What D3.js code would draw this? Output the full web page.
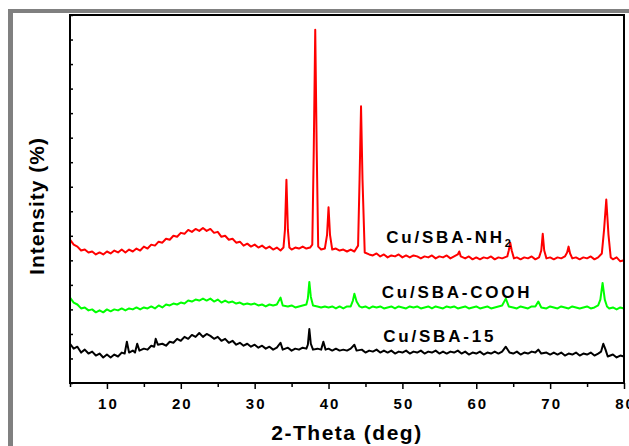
<!DOCTYPE html>
<html>
<head>
<meta charset="utf-8">
<script src="https://cdn.jsdelivr.net/npm/d3@7"></script>
<style>
  body { margin: 0; background: #fff; }
  svg { display: block; }
</style>
</head>
<body>
<svg id="chart" width="629" height="446"></svg>
<script>
// sample names, colours and where the name sits (2-theta, intensity)
const sampleNames = ["Cu/SBA-NH", "Cu/SBA-COOH", "Cu/SBA-15"];
const nameSubs = ["2", "", ""];
const lineColors = ["#ff0000", "#00ff00", "#000000"];
const labelX = [47.8, 47.2, 47.4];
const labelY = [142.7, 86.6, 41.8];

const xTickValues = [10, 20, 30, 40, 50, 60, 70, 80];

// XRD patterns, [2-theta, intensity (a.u.)]
const cuSbaNh2 = [
  [5,146],[5.5,141],[6,139],[6.5,135],[7,136],[7.5,133],[8,134],[8.5,131],[9,133],[9.5,131],
  [10,134],[10.5,132],[11,135],[11.5,133],[12,136],[12.5,133],[13,136],[13.5,134],[14,137],[14.5,135],
  [15,139],[15.5,137],[16,141],[16.5,140],[17,144],[17.5,143],[18,147],[18.5,146],[19,150],[19.5,149],
  [20,153],[20.5,152],[21,156],[21.5,154],[22,157],[22.5,155],[23,158],[23.5,155],[24,157],[24.5,153],
  [25,154],[25.5,149],[26,150],[26.5,146],[27,147],[27.5,143],[28,144],[28.5,140],[29,142],[29.5,139],
  [30,141],[30.5,138],[31,140],[31.5,137],[32,139],[32.5,136],[33,138],[33.5,135],[33.9,138],[34.1,156],
  [34.3,207],[34.5,156],[34.7,138],[35,136],[35.5,138],[36,137],[36.5,139],[37,137],[37.5,138],[37.8,141],
  [38,237],[38.2,360],[38.4,237],[38.6,139],[39,136],[39.5,137],[39.8,151],[40,179],[40.2,151],[40.5,136],
  [41,137],[41.5,135],[42,136],[42.5,134],[43,136],[43.5,134],[44,140],[44.2,207],[44.4,282],[44.6,207],
  [44.9,133],[45.5,131],[46,130],[46.5,132],[47,129],[47.5,131],[48,128],[48.5,130],[49,129],[49.5,131],
  [50,128],[50.5,130],[51,128],[51.5,130],[52,129],[52.5,127],[53,129],[53.5,128],[54,130],[54.5,127],
  [55,129],[55.5,128],[56,130],[56.5,127],[57,129],[57.5,131],[57.7,134],[57.9,129],[58.5,127],[59,129],
  [59.5,126],[60,128],[60.5,126],[61,128],[61.5,127],[62,129],[62.5,126],[63,128],[63.5,127],[64.2,129],
  [64.4,135],[64.6,143],[64.8,135],[65.1,127],[65.5,128],[66,126],[66.5,128],[67,127],[67.5,129],[68,126],
  [68.5,128],[68.8,135],[69,152],[69.2,135],[69.5,127],[70,128],[70.5,126],[71,128],[71.5,127],[72,129],
  [72.3,133],[72.5,139],[72.7,132],[73,127],[73.5,128],[74,126],[74.5,128],[75,127],[75.5,129],[76,126],
  [76.5,128],[77,132],[77.3,156],[77.6,187],[77.9,151],[78.2,128],[78.5,126],[79,128],[79.5,124],[80,125]
];

const cuSbaCooh = [
  [5,87],[5.5,82],[6,80],[6.5,76],[7,77],[7.5,74],[8,75],[8.5,72],[9,74],[9.5,72],
  [10,75],[10.5,73],[11,75],[11.5,74],[12,76],[12.5,74],[13,76],[13.5,75],[14,77],[14.5,75],
  [15,77],[15.5,76],[16,78],[16.5,76],[17,79],[17.5,77],[18,80],[18.5,79],[19,81],[19.5,80],
  [20,82],[20.5,81],[21,84],[21.5,83],[22,85],[22.5,84],[23,86],[23.5,84],[24,86],[24.5,83],
  [25,85],[25.5,82],[26,84],[26.5,82],[27,83],[27.5,81],[28,82],[28.5,80],[29,81],[29.5,80],
  [30,81],[30.5,79],[31,80],[31.5,78],[32,80],[32.5,79],[33,80],[33.5,87],[33.8,79],[34.5,78],
  [35,79],[35.5,77],[36,78],[36.5,79],[37,80],[37.2,86],[37.4,103],[37.6,88],[37.9,79],[38.5,78],
  [39,77],[39.5,78],[40,77],[40.5,78],[41,76],[41.5,78],[42,76],[42.5,78],[43,78],[43.3,84],
  [43.5,91],[43.8,83],[44.2,78],[44.5,77],[45,78],[45.5,76],[46,78],[46.5,77],[47,78],[47.5,76],
  [48,77],[48.5,78],[49,76],[49.5,78],[50,77],[50.5,76],[51,78],[51.5,77],[52,78],[52.5,76],
  [53,77],[53.5,78],[54,76],[54.5,78],[55,77],[55.5,76],[56,78],[56.5,77],[57,78],[57.5,76],
  [58,77],[58.5,78],[59,76],[59.5,77],[60,78],[60.5,76],[61,77],[61.5,78],[62,76],[62.5,77],
  [63,78],[63.5,79],[64,86],[64.4,78],[65,77],[65.5,76],[66,78],[66.5,77],[67,76],[67.5,78],
  [68,78],[68.4,83],[68.8,77],[69.5,76],[70,78],[70.5,77],[71,76],[71.5,78],[72,77],[72.5,76],
  [73,78],[73.5,77],[74,76],[74.5,77],[75,78],[75.5,76],[76,77],[76.5,79],[76.8,85],[77.1,102],
  [77.4,85],[77.7,78],[78,76],[78.5,77],[79,75],[79.5,77],[80,76]
];

const cuSba15 = [
  [5,40],[5.5,35],[6,37],[6.5,31],[7,34],[7.5,30],[8,32],[8.5,28],[9,30],[9.5,26],
  [10,29],[10.5,26],[11,29],[11.5,27],[12,31],[12.4,30],[12.7,42],[13,31],[13.5,33],[13.8,31],
  [14.1,40],[14.4,33],[15,35],[15.5,34],[16,38],[16.4,37],[16.6,45],[16.9,39],[17.5,40],[18,38],
  [18.5,42],[19,41],[19.5,45],[20,43],[20.5,47],[21,45],[21.5,49],[22,47],[22.5,51],[23,47],
  [23.5,50],[24,48],[24.5,45],[25,47],[25.5,43],[26,45],[26.5,41],[27,43],[27.5,39],[28,41],
  [28.5,38],[29,40],[29.5,37],[30,39],[30.5,36],[31,38],[31.5,35],[32,37],[32.5,34],[33,36],
  [33.5,41],[33.8,34],[34.5,36],[35,33],[35.5,35],[36,34],[36.5,36],[37,35],[37.2,39],[37.4,55],
  [37.6,40],[37.9,34],[38.5,35],[39,34],[39.3,42],[39.6,34],[40,35],[40.5,33],[41,35],[41.5,33],
  [42,34],[42.5,33],[43,35],[43.5,39],[43.8,33],[44.5,34],[45,31],[45.5,33],[46,32],[46.5,34],
  [47,31],[47.5,33],[48,31],[48.5,33],[49,30],[49.5,32],[50,31],[50.5,33],[51,30],[51.5,32],
  [52,31],[52.5,33],[53,30],[53.5,32],[54,31],[54.5,33],[55,30],[55.5,32],[56,30],[56.5,32],
  [57,31],[57.5,33],[58,30],[58.5,32],[59,29],[59.5,31],[60,30],[60.5,32],[61,29],[61.5,31],
  [62,30],[62.5,32],[63,30],[63.5,32],[64,37],[64.5,31],[65,30],[65.5,32],[66,29],[66.5,31],
  [67,30],[67.5,32],[68,31],[68.4,34],[68.8,30],[69.5,31],[70,29],[70.5,31],[71,29],[71.5,31],
  [72,28],[72.5,30],[73,29],[73.5,31],[74,28],[74.5,30],[75,29],[75.5,31],[76,28],[76.5,30],
  [76.9,32],[77.2,40],[77.5,34],[77.8,27],[78.5,29],[79,26],[79.5,28],[80,27]
];

const patterns = [cuSbaNh2, cuSbaCooh, cuSba15];

const svg = d3.select("#chart");

// grey page border, left and top
svg.append("rect").attr("x", 8).attr("y", 9).attr("width", 621).attr("height", 4).attr("fill", "#808080");
svg.append("rect").attr("x", 8).attr("y", 9).attr("width", 5).attr("height", 437).attr("fill", "#808080");

const plotL = 70, plotR = 624, plotT = 15, plotB = 383;

const x = d3.scaleLinear().domain([5, 80]).range([plotL, plotR]);
const y = d3.scaleLinear().domain([0, 375]).range([plotB, plotT]);

const line = d3.line()
  .x(d => x(d[0]))
  .y(d => y(d[1]));

svg.selectAll("path.pattern")
  .data(patterns)
  .enter()
  .append("path")
    .attr("class", "pattern")
    .attr("d", line)
    .attr("fill", "none")
    .attr("stroke", (d, i) => lineColors[i])
    .attr("stroke-width", 2)
    .attr("stroke-linejoin", "round");

// x axis, major ticks labelled, minor ticks between
const xAxis = svg.append("g").attr("transform", "translate(0," + plotB + ")");
xAxis.call(d3.axisBottom(x).tickValues(xTickValues).tickSize(6).tickPadding(9));
xAxis.append("g").call(d3.axisBottom(x).tickValues(d3.range(5, 80, 10)).tickSize(4).tickFormat(""));
xAxis.selectAll(".domain").remove();
xAxis.selectAll("line").attr("stroke", "#000").attr("stroke-width", 1.5);
xAxis.selectAll("text")
  .attr("font-family", "'Liberation Sans', Arial, sans-serif")
  .attr("font-size", 15)
  .attr("font-weight", "bold")
  .attr("letter-spacing", "2px")
  .attr("dx", 1)
  .attr("fill", "#000");

// y axis, ticks only, pointing inward
const yAxis = svg.append("g").attr("transform", "translate(" + plotL + ",0)");
yAxis.call(d3.axisRight(y).tickValues(d3.range(0, 376, 25)).tickSize(3).tickFormat(""));
yAxis.selectAll(".domain").remove();
yAxis.selectAll("line").attr("stroke", "#000").attr("stroke-width", 1.5);

// frame
svg.append("rect")
  .attr("x", plotL).attr("y", plotT)
  .attr("width", plotR - plotL).attr("height", plotB - plotT)
  .attr("fill", "none")
  .attr("stroke", "#000")
  .attr("stroke-width", 2);

// sample names
const names = svg.selectAll("text.name")
  .data(sampleNames)
  .enter()
  .append("text")
    .attr("class", "name")
    .attr("x", (d, i) => x(labelX[i]))
    .attr("y", (d, i) => y(labelY[i]))
    .attr("font-family", "'Liberation Sans', Arial, sans-serif")
    .attr("font-size", 17)
    .attr("font-weight", "bold")
    .attr("letter-spacing", "2.8px")
    .attr("fill", "#000")
    .text(d => d);
names.filter((d, i) => nameSubs[i])
  .append("tspan")
    .attr("dy", 4)
    .attr("font-size", 11)
    .text("2");

// axis titles
svg.append("text")
  .attr("x", (plotL + plotR) / 2)
  .attr("y", 440)
  .attr("text-anchor", "middle")
  .attr("font-family", "'Liberation Sans', Arial, sans-serif")
  .attr("font-size", 21)
  .attr("font-weight", "bold")
  .attr("letter-spacing", "1.5px")
  .text("2-Theta (deg)");

svg.append("text")
  .attr("transform", "translate(44," + ((plotT + plotB) / 2 + 7) + ") rotate(-90)")
  .attr("text-anchor", "middle")
  .attr("font-family", "'Liberation Sans', Arial, sans-serif")
  .attr("font-size", 21)
  .attr("font-weight", "bold")
  .attr("letter-spacing", "1px")
  .text("Intensity (%)");
</script>
</body>
</html>
